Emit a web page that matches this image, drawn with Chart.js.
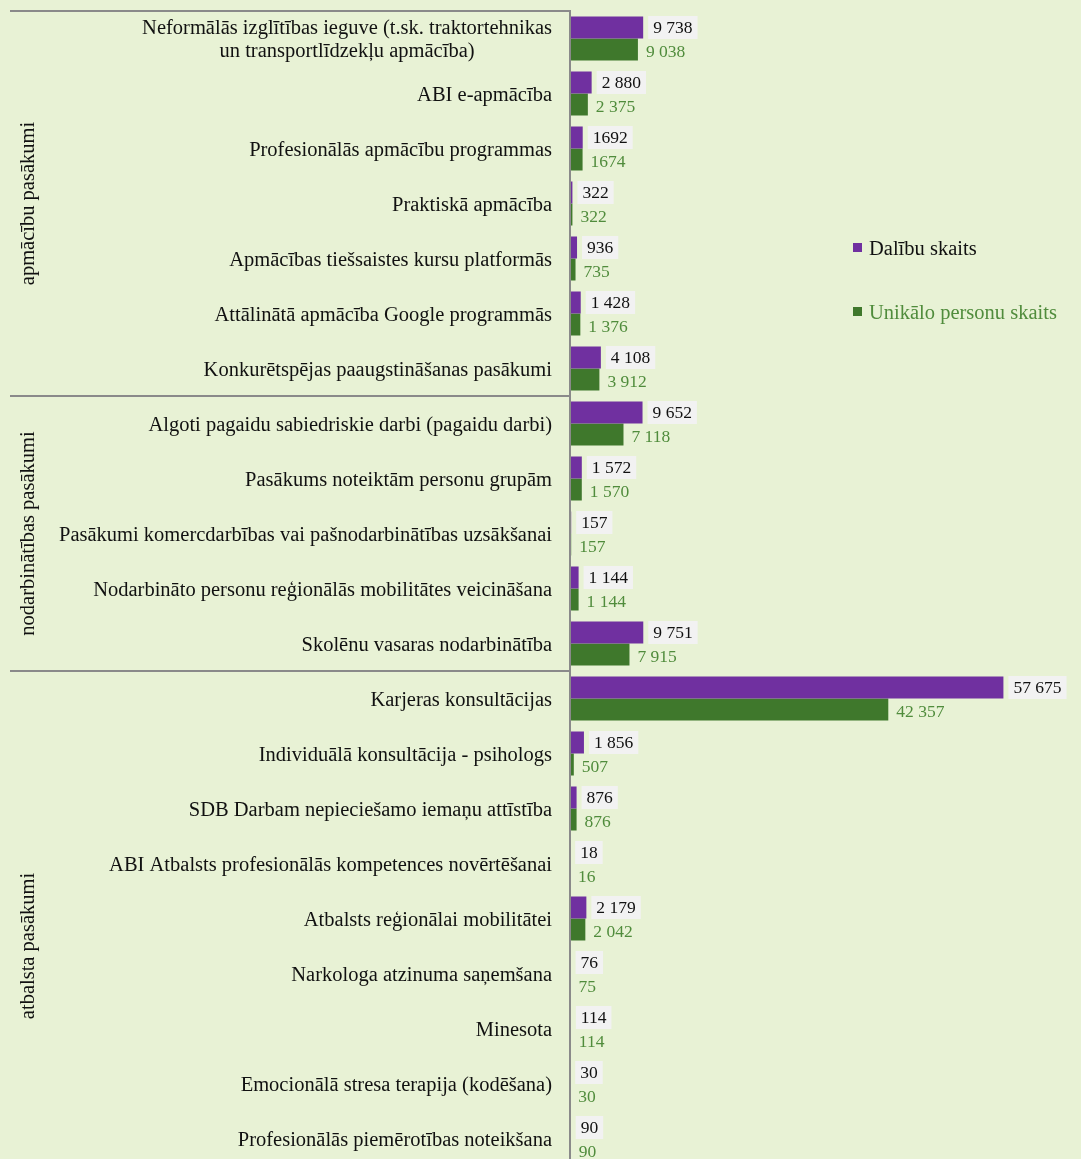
<!DOCTYPE html>
<html>
<head>
<meta charset="utf-8">
<script src="https://cdn.jsdelivr.net/npm/chart.js@4.4.1/dist/chart.umd.min.js"></script>
<style>
  html, body { margin: 0; padding: 0; background: #E8F2D5; overflow: hidden; }
  #wrap { position: relative; width: 1081px; height: 1166px; }
</style>
</head>
<body>
<div id="wrap"><canvas id="c"></canvas></div>
<script>
// ---- data ----
const categories = [
  ['Neformālās izglītības ieguve (t.sk. traktortehnikas', 'un transportlīdzekļu apmācība)'],
  'ABI e-apmācība',
  'Profesionālās apmācību programmas',
  'Praktiskā apmācība',
  'Apmācības tiešsaistes kursu platformās',
  'Attālinātā apmācība Google programmās',
  'Konkurētspējas paaugstināšanas pasākumi',
  'Algoti pagaidu sabiedriskie darbi (pagaidu darbi)',
  'Pasākums noteiktām personu grupām',
  'Pasākumi komercdarbības vai pašnodarbinātības uzsākšanai',
  'Nodarbināto personu reģionālās mobilitātes veicināšana',
  'Skolēnu vasaras nodarbinātība',
  'Karjeras konsultācijas',
  'Individuālā konsultācija - psihologs',
  'SDB Darbam nepieciešamo iemaņu attīstība',
  'ABI Atbalsts profesionālās kompetences novērtēšanai',
  'Atbalsts reģionālai mobilitātei',
  'Narkologa atzinuma saņemšana',
  'Minesota',
  'Emocionālā stresa terapija (kodēšana)',
  'Profesionālās piemērotības noteikšana'
];
const dalibuSkaits   = [9738, 2880, 1692, 322, 936, 1428, 4108, 9652, 1572, 157, 1144, 9751, 57675, 1856, 876, 18, 2179, 76, 114, 30, 90];
const unikaloSkaits  = [9038, 2375, 1674, 322, 735, 1376, 3912, 7118, 1570, 157, 1144, 7915, 42357, 507, 876, 16, 2042, 75, 114, 30, 90];
const seriesNames    = ['Dalību skaits', 'Unikālo personu skaits'];
const groupNames     = ['apmācību pasākumi', 'nodarbinātības pasākumi', 'atbalsta pasākumi'];
const groupStart     = [0, 7, 12];
const groupEnd       = [7, 12, 22]; // last group continues below the visible crop
const noSeparatorIdx = [2];          // values printed without thousands space in the source

// ---- styles ----
const FONT = '"Liberation Serif", "Times New Roman", serif';
const PURPLE = '#7030A0';
const GREEN = '#3F782C';
const GREEN_TEXT = '#508C3C';
const LINE = '#8A8A8A';

function fmt(v, idx) {
  if (noSeparatorIdx.includes(idx)) return String(v);
  return String(v).replace(/\B(?=(\d{3})+(?!\d))/g, ' ');
}

const decorPlugin = {
  id: 'decor',
  afterDraw(chart) {
    const ctx = chart.ctx;
    const ca = chart.chartArea;
    const ys = chart.scales.y;
    const n = categories.length;
    const step = (ys.getPixelForValue(n - 1) - ys.getPixelForValue(0)) / (n - 1);
    const edge = i => ys.getPixelForValue(0) - step / 2 + i * step;

    ctx.save();
    // axis line
    ctx.strokeStyle = LINE;
    ctx.lineWidth = 2;
    ctx.beginPath();
    ctx.moveTo(ca.left, ca.top - 1);
    ctx.lineTo(ca.left, chart.height);
    ctx.stroke();
    // group separators
    groupStart.forEach(s => {
      const y = Math.round(edge(s));
      ctx.beginPath();
      ctx.moveTo(10, y);
      ctx.lineTo(ca.left, y);
      ctx.stroke();
    });
    // group labels
    ctx.fillStyle = '#111';
    ctx.font = '20.5px ' + FONT;
    ctx.textAlign = 'center';
    ctx.textBaseline = 'middle';
    groupNames.forEach((g, k) => {
      const yc = (edge(groupStart[k]) + edge(groupEnd[k])) / 2;
      ctx.save();
      ctx.translate(29, yc);
      ctx.rotate(-Math.PI / 2);
      ctx.fillText(g, 0, 0);
      ctx.restore();
    });
    // category labels
    ctx.font = '20.5px ' + FONT;
    ctx.fillStyle = '#111';
    const xr = ca.left - 18;
    categories.forEach((c, i) => {
      const y = ys.getPixelForValue(i) + 2;
      if (Array.isArray(c)) {
        const w = Math.max(...c.map(t => ctx.measureText(t).width));
        ctx.textAlign = 'center';
        const lh = 23;
        c.forEach((t, j) => ctx.fillText(t, xr - w / 2, y + (j - (c.length - 1) / 2) * lh));
      } else {
        ctx.textAlign = 'right';
        ctx.fillText(c, xr, y);
      }
    });
    // value labels
    ctx.font = '17.5px ' + FONT;
    ctx.textAlign = 'left';
    chart.data.datasets.forEach((ds, di) => {
      const meta = chart.getDatasetMeta(di);
      meta.data.forEach((el, i) => {
        const t = fmt(ds.data[i], i);
        const w = ctx.measureText(t).width;
        if (di === 0) {
          ctx.fillStyle = '#F2F2F2';
          ctx.fillRect(el.x + 5, el.y - 11.5, w + 10, 23);
          ctx.fillStyle = '#111';
          ctx.fillText(t, el.x + 10, el.y + 1);
        } else {
          ctx.fillStyle = GREEN_TEXT;
          ctx.fillText(t, el.x + 8, el.y + 3);
        }
      });
    });
    // legend
    const lx = ca.right - 228;
    const lys = [248, 312];
    ctx.font = '20.5px ' + FONT;
    chart.data.datasets.forEach((ds, di) => {
      const y = lys[di];
      ctx.fillStyle = ds.backgroundColor;
      ctx.fillRect(lx, y - 5, 9, 9);
      ctx.fillStyle = di === 0 ? '#111' : GREEN_TEXT;
      ctx.fillText(ds.label, lx + 16, y + 2);
    });
    ctx.restore();
  }
};

new Chart(document.getElementById('c'), {
  type: 'bar',
  data: {
    labels: categories,
    datasets: [
      { label: seriesNames[0], data: dalibuSkaits, backgroundColor: PURPLE },
      { label: seriesNames[1], data: unikaloSkaits, backgroundColor: GREEN }
    ]
  },
  options: {
    indexAxis: 'y',
    responsive: true,
    maintainAspectRatio: false,
    animation: false,
    layout: { padding: { top: 11, right: 0, bottom: 0, left: 0 } },
    datasets: { bar: { categoryPercentage: 0.8, barPercentage: 1.0 } },
    plugins: { legend: { display: false }, tooltip: { enabled: false } },
    scales: {
      x: { display: false, min: 0, max: 68000 },
      y: {
        grid: { display: false },
        border: { display: false },
        ticks: { display: false },
        afterFit(scale) { scale.width = 570; }
      }
    }
  },
  plugins: [decorPlugin]
});
</script>
</body>
</html>
